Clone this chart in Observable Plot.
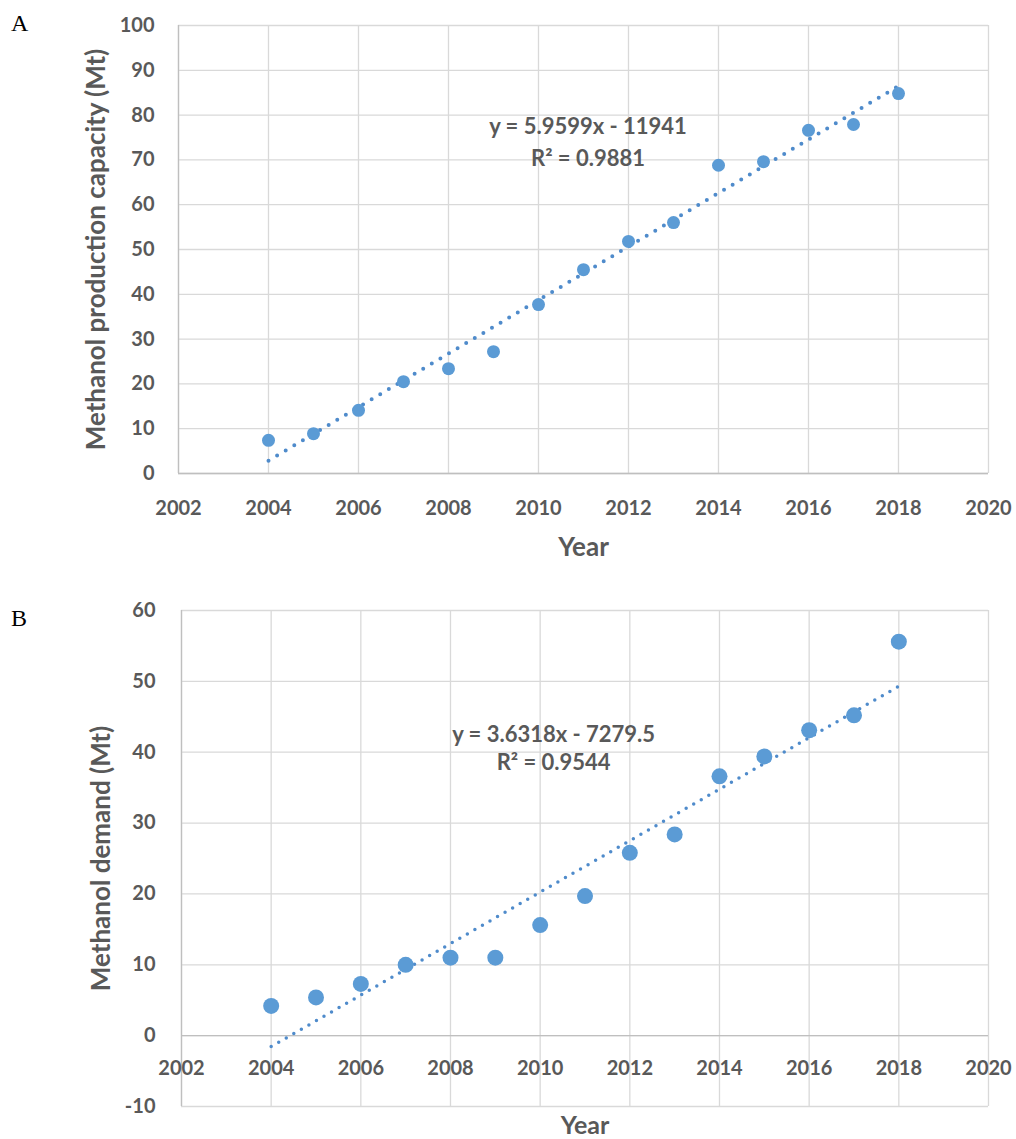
<!DOCTYPE html>
<html><head><meta charset="utf-8">
<script src="https://cdn.jsdelivr.net/npm/d3@7"></script>
<script src="https://cdn.jsdelivr.net/npm/@observablehq/plot@0.6"></script>
<style>
body{margin:0;background:#fff;}
#wrap{position:relative;width:1016px;height:1139px;background:#fff;}
.panel{position:absolute;left:0;}
.letter{position:absolute;font-family:"Liberation Serif","DejaVu Serif",serif;font-size:24px;color:#000;line-height:1.15;}
</style></head><body>
<div id="wrap">
<div id="a" class="panel" style="top:0"></div>
<div id="b" class="panel" style="top:565px"></div>
<div class="letter" style="left:11px;top:10px">A</div>
<div class="letter" style="left:11px;top:605px">B</div>
</div>
<script>
// ---- data ----
const years = [2004, 2005, 2006, 2007, 2008, 2009, 2010, 2011, 2012, 2013, 2014, 2015, 2016, 2017, 2018];
const capacity = [7.4, 8.9, 14.1, 20.5, 23.4, 27.2, 37.7, 45.5, 51.8, 56.0, 68.8, 69.6, 76.6, 77.9, 84.8];
const demand = [4.2, 5.4, 7.3, 10.0, 11.0, 11.0, 15.6, 19.7, 25.8, 28.4, 36.6, 39.4, 43.1, 45.2, 55.6];
const xTicks = [2002, 2004, 2006, 2008, 2010, 2012, 2014, 2016, 2018, 2020];
const yTicksA = [0, 10, 20, 30, 40, 50, 60, 70, 80, 90, 100];
const yTicksB = [-10, 0, 10, 20, 30, 40, 50, 60];
const eqA = ["y = 5.9599x - 11941", "R² = 0.9881"];
const eqB = ["y = 3.6318x - 7279.5", "R² = 0.9544"];
const titleA = "Methanol production capacity (Mt)";
const titleB = "Methanol demand (Mt)";
const xTitle = "Year";

const dataA = years.map((year, i) => ({year, v: capacity[i]}));
const dataB = years.map((year, i) => ({year, v: demand[i]}));

const GRID = "#d9d9d9", AXIS = "#bfbfbf", TXT = "#595959", BLUE = "#5b9bd5", TREND = "#4f8bcb";
const font = {fontFamily: "Lato, 'Open Sans', sans-serif", fontWeight: "bold", fontSize: "20px", color: TXT, background: "#fff", overflow: "visible"};
const fmt = d => String(d);

const chartA = Plot.plot({
  width: 1016, height: 565,
  marginLeft: 178, marginRight: 28, marginTop: 25, marginBottom: 92,
  x: {domain: [2002, 2020]},
  y: {domain: [0, 100]},
  style: font,
  marks: [
    Plot.gridX(xTicks, {stroke: GRID, strokeOpacity: 1, strokeWidth: 1.3}),
    Plot.gridY(yTicksA, {stroke: GRID, strokeOpacity: 1, strokeWidth: 1.3}),
    Plot.ruleY([0], {stroke: AXIS, strokeWidth: 1.3}),
    Plot.ruleX([2002], {stroke: AXIS, strokeWidth: 1.3}),
    Plot.axisY(yTicksA, {tickSize: 0, tickPadding: 24, label: null, tickFormat: fmt, fill: TXT}),
    Plot.axisX(xTicks, {tickSize: 0, tickPadding: 27, label: null, tickFormat: fmt, fill: TXT}),
    Plot.linearRegressionY(dataA, {x: "year", y: "v", stroke: TREND, strokeWidth: 4, strokeDasharray: "0 10", strokeLinecap: "round", ci: 0}),
    Plot.dot(dataA, {x: "year", y: "v", r: 6.5, fill: BLUE}),
    Plot.text([eqA.join("\n")], {x: 2011.1, y: 77.5, lineAnchor: "top", dy: -15, lineHeight: 1.45, fill: TXT, fontSize: 22}),
    Plot.text([titleA], {frameAnchor: "left", dx: -82, rotate: -90, textAnchor: "middle", lineAnchor: "middle", fill: TXT, fontSize: 26}),
    Plot.text([xTitle], {frameAnchor: "bottom", dy: 74, textAnchor: "middle", lineAnchor: "middle", fill: TXT, fontSize: 26})
  ]
});
document.getElementById("a").appendChild(chartA);

const chartB = Plot.plot({
  width: 1016, height: 574,
  marginLeft: 181, marginRight: 28, marginTop: 45, marginBottom: 33,
  x: {domain: [2002, 2020], axis: null},
  y: {domain: [-10, 60]},
  style: font,
  marks: [
    Plot.gridX(xTicks, {stroke: GRID, strokeOpacity: 1, strokeWidth: 1.3}),
    Plot.gridY(yTicksB, {stroke: GRID, strokeOpacity: 1, strokeWidth: 1.3}),
    Plot.ruleY([0], {stroke: AXIS, strokeWidth: 1.3}),
    Plot.ruleX([2002], {stroke: AXIS, strokeWidth: 1.3}),
    Plot.axisY(yTicksB, {tickSize: 0, tickPadding: 26, label: null, tickFormat: fmt, fill: TXT}),
    Plot.text(xTicks, {x: d => d, y: 0, dy: 25, lineAnchor: "top", text: fmt, fill: TXT}),
    Plot.linearRegressionY(dataB, {x: "year", y: "v", stroke: TREND, strokeWidth: 3.5, strokeDasharray: "0 8.7", strokeLinecap: "round", ci: 0}),
    Plot.dot(dataB, {x: "year", y: "v", r: 8, fill: BLUE}),
    Plot.text([eqB.join("\n")], {x: 2010.3, y: 42.2, lineAnchor: "top", dy: -14, lineHeight: 1.27, fill: TXT, fontSize: 22}),
    Plot.text([titleB], {frameAnchor: "left", dx: -80, rotate: -90, textAnchor: "middle", lineAnchor: "middle", fill: TXT, fontSize: 26}),
    Plot.text([xTitle], {frameAnchor: "bottom", dy: 19, textAnchor: "middle", lineAnchor: "middle", fill: TXT, fontSize: 25})
  ]
});
document.getElementById("b").appendChild(chartB);
</script>
</body></html>
